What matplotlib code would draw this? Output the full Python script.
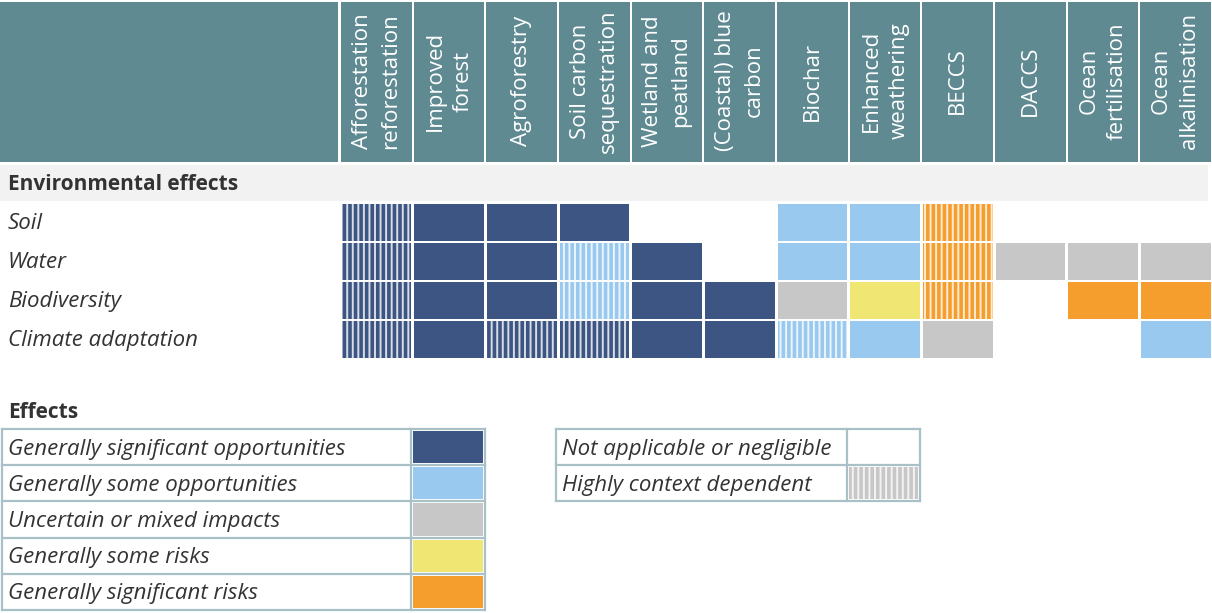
import matplotlib.pyplot as plt
from matplotlib.patches import Rectangle

plt.rcParams['font.family'] = ['Open Sans', 'DejaVu Sans']
plt.rcParams['hatch.linewidth'] = 1.4

# Kolumnit (menetelmät) ja rivit (vaikutukset)
methods = ["Afforestation\nreforestation", "Improved\nforest", "Agroforestry",
           "Soil carbon\nsequestration", "Wetland and\npeatland", "(Coastal) blue\ncarbon",
           "Biochar", "Enhanced\nweathering", "BECCS", "DACCS",
           "Ocean\nfertilisation", "Ocean\nalkalinisation"]
section = "Environmental effects"
effects = ["Soil", "Water", "Biodiversity", "Climate adaptation"]

# S = merkittäviä mahdollisuuksia, O = joitain mahdollisuuksia, U = epävarma,
# R = joitain riskejä, SR = merkittäviä riskejä, N = ei sovellu
# h-pääte = vahvasti kontekstiriippuvainen
soil = ["Sh", "S", "S", "S", "N", "N", "O", "O", "SRh", "N", "N", "N"]
water = ["Sh", "S", "S", "Oh", "S", "N", "O", "O", "SRh", "U", "U", "U"]
biodiversity = ["Sh", "S", "S", "Oh", "S", "S", "U", "R", "SRh", "N", "SR", "SR"]
climate = ["Sh", "S", "Sh", "Sh", "S", "S", "Oh", "O", "U", "N", "N", "O"]
grid = [soil, water, biodiversity, climate]

legend_codes = ["S", "O", "U", "R", "SR"]
legend_labels = ["Generally significant opportunities", "Generally some opportunities",
                 "Uncertain or mixed impacts", "Generally some risks",
                 "Generally significant risks"]
legend2_codes = ["N", "Uh"]
legend2_labels = ["Not applicable or negligible", "Highly context dependent"]

colors = {"S": "#3C5583", "O": "#99C9EE", "U": "#C8C7C8", "R": "#F0E674",
          "SR": "#F59E2E", "N": "#FFFFFF"}

teal = "#5F8A92"
border = "#A9C1C6"
text_col = "#333333"

fig = plt.figure(figsize=(12.12, 6.13), dpi=100)
ax = fig.add_axes([0, 0, 1, 1])
ax.set_xlim(0, 1212)
ax.set_ylim(613, 0)
ax.axis("off")

col_x0 = 340
col_w = (1212 - col_x0) / len(methods)
row_y0 = 204
row_h = 39


def cell(x, y, w, h, code):
    hatch = code.endswith("h")
    base = code[:-1] if hatch else code
    ax.add_patch(Rectangle((x, y), w, h, facecolor=colors[base],
                           edgecolor=(1, 1, 1, 0.8) if hatch else "none",
                           hatch="|||" if hatch else None, linewidth=0))


# Otsikkorivi
ax.add_patch(Rectangle((0, 2), col_x0 - 2, 160, color=teal, lw=0))
for i, m in enumerate(methods):
    x = col_x0 + i * col_w
    ax.add_patch(Rectangle((x + 1, 2), col_w - 2, 160, color=teal, lw=0))
    ax.text(x + col_w / 2, 81, m, rotation=90, ha="center", va="center",
            color="white", fontsize=16, linespacing=1.45)

# Osion otsikko
ax.add_patch(Rectangle((0, 165), 1208, 36, color="#F2F2F2", lw=0))
ax.text(8, 185, section, fontsize=15, fontweight="bold", color=text_col, va="center")

# Solut
for r, (name, row) in enumerate(zip(effects, grid)):
    y = row_y0 + r * row_h
    ax.text(8, y + row_h / 2, name, fontsize=16, style="italic", color=text_col, va="center")
    for c, code in enumerate(row):
        x = col_x0 + c * col_w
        cell(x + 1.5, y, col_w - 3, row_h - 2.5, code)

# Selite
ax.text(8, 412, "Effects", fontsize=15, fontweight="bold", color=text_col, va="center")
leg_y0 = 429
leg_h = 36.2


def legend_table(x0, x_split, x1, codes, labels):
    n = len(codes)
    for k, (code, lab) in enumerate(zip(codes, labels)):
        y = leg_y0 + k * leg_h
        cell(x_split + 2, y + 2, x1 - x_split - 4, leg_h - 4, code)
        ax.text(x0 + 6, y + leg_h / 2 + 2, lab, fontsize=16, style="italic",
                color=text_col, va="center")
    for k in range(n + 1):
        ax.plot([x0, x1], [leg_y0 + k * leg_h] * 2, color=border, lw=1.6)
    for xx in (x0, x_split, x1):
        ax.plot([xx, xx], [leg_y0, leg_y0 + n * leg_h], color=border, lw=1.6)


legend_table(2, 411, 485, legend_codes, legend_labels)
legend_table(556, 847, 920, legend2_codes, legend2_labels)

fig.savefig("out.png", dpi=100)
